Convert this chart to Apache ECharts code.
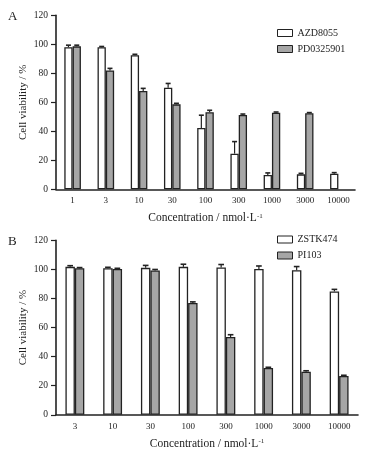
<!DOCTYPE html>
<html><head><meta charset="utf-8">
<script src="https://cdn.jsdelivr.net/npm/echarts@6/dist/echarts.min.js"></script>
<style>html,body{margin:0;padding:0;background:#fff}#c{width:386px;height:453px}</style>
</head><body><div id="c"></div>
<script>
var catsA = ['1','3','10','30','100','300','1000','3000','10000'];
var azd = [98, 98, 92.4, 70, 42.3, 24.6, 9.9, 10.3, 10.8];
var azdErr = [1.4, 0.5, 0.7, 3, 8.8, 8.3, 1.4, 0.7, 0.7];
var pd = [98.6, 82, 67.8, 58.6, 53.1, 51.2, 52.8, 52.4, null];
var pdErr = [0.8, 1.4, 1.8, 0.7, 1.4, 0.7, 0.5, 0.5, null];

var catsB = ['3','10','30','100','300','1000','3000','10000'];
var zstk = [101.8, 100.9, 101.1, 101.8, 101.4, 100.4, 99.5, 84.9];
var zstkErr = [0.8, 0.6, 1.7, 1.8, 2, 2, 2.5, 1.4];
var pi = [100.8, 100.3, 99.3, 77, 53.5, 32.2, 29.6, 26.7];
var piErr = [0.5, 0.5, 0.7, 0.7, 1.6, 0.5, 0.7, 0.5];

var yTicks = [0, 20, 40, 60, 80, 100, 120];

var FONT = '"Liberation Serif", "Times New Roman", serif';
var INK = '#222';

function errData(vals, errs){
  var out = [];
  for (var i = 0; i < vals.length; i++) {
    if (vals[i] != null && errs[i] != null) out.push([i, vals[i], errs[i]]);
  }
  return out;
}
function errRender(sign){
  return function(params, api){
    var ci = api.value(0), v = api.value(1), e = api.value(2);
    var base = api.coord([ci, v]);
    var top = api.coord([ci, v + e]);
    var band = api.size([1, 0])[0];
    var x = base[0] + sign * band * 0.125;
    var half = band * 0.075;
    return {type:'group', children:[
      {type:'line', shape:{x1:x, y1:base[1], x2:x, y2:top[1]}, style:{stroke:INK, lineWidth:1.2}},
      {type:'line', shape:{x1:x-half, y1:top[1], x2:x+half, y2:top[1]}, style:{stroke:INK, lineWidth:1.6}}
    ]};
  };
}
function xAxis(idx, cats){
  return {
    type:'category', gridIndex: idx, data: cats,
    axisLine:{lineStyle:{color:INK, width:1.6}},
    axisTick:{length:4, lineStyle:{color:INK, width:1.2}},
    axisLabel:{color:INK, fontFamily:FONT, fontSize:9, margin:7},
    name:'{a|Concentration / nmol·L}{s|-1}', nameLocation:'middle', nameGap:23, nameMoveOverlap:false,
    nameTextStyle:{rich:{a:{fontFamily:FONT, fontSize:11.5, color:INK}, s:{fontFamily:FONT, fontSize:7, color:INK, verticalAlign:'top', padding:[0,0,4,0]}}}
  };
}
function yAxis(idx){
  return {
    type:'value', gridIndex: idx, min: yTicks[0], max: yTicks[yTicks.length-1], interval: yTicks[1]-yTicks[0],
    splitLine:{show:false},
    axisLine:{show:true, lineStyle:{color:INK, width:1.6}},
    axisTick:{show:true, length:5, lineStyle:{color:INK, width:1.2}},
    axisLabel:{color:INK, fontFamily:FONT, fontSize:9.5, margin:8},
    name:'Cell viability / %', nameLocation:'middle', nameGap:27, nameMoveOverlap:false,
    nameTextStyle:{fontFamily:FONT, fontSize:11, color:INK}
  };
}
function barSeries(name, data, color, xi){
  return {type:'bar', name:name, data:data, xAxisIndex:xi, yAxisIndex:xi,
    barWidth:'25%', barGap:'0%',
    itemStyle:{color:color, borderColor:INK, borderWidth:1.3}};
}
function errSeries(vals, errs, sign, xi){
  return {type:'custom', name:'err', xAxisIndex:xi, yAxisIndex:xi, z:5,
    data: errData(vals, errs), encode:{x:0, y:1}, renderItem: errRender(sign)};
}
function legend(names, top){
  return {orient:'vertical', left:277, top:top, padding:0, itemWidth:15, itemHeight:7, itemGap:6,
    icon:'rect', data:names, itemStyle:{borderWidth:1},
    textStyle:{fontFamily:FONT, fontSize:10, color:INK}, selectedMode:false};
}

var chart = echarts.init(document.getElementById('c'), null, {renderer:'canvas'});
chart.setOption({
  animation:false,
  backgroundColor:'#fff',
  grid:[
    {left:56, right:31, top:15.3, height:174},
    {left:56, right:28, top:240.4, height:174.4}
  ],
  xAxis:[xAxis(0, catsA), xAxis(1, catsB)],
  yAxis:[yAxis(0), yAxis(1)],
  legend:[legend(['AZD8055','PD0325901'], 28), legend(['ZSTK474','PI103'], 234.5)],
  graphic:[
    {type:'text', left:8, top:10, style:{text:'A', font:'13px ' + FONT, fill:INK}},
    {type:'text', left:8, top:235, style:{text:'B', font:'13px ' + FONT, fill:INK}}
  ],
  series:[
    barSeries('AZD8055', azd, '#ffffff', 0),
    barSeries('PD0325901', pd, '#a6a6a6', 0),
    errSeries(azd, azdErr, -1, 0),
    errSeries(pd, pdErr, 1, 0),
    barSeries('ZSTK474', zstk, '#ffffff', 1),
    barSeries('PI103', pi, '#a6a6a6', 1),
    errSeries(zstk, zstkErr, -1, 1),
    errSeries(pi, piErr, 1, 1)
  ]
});
</script></body></html>
